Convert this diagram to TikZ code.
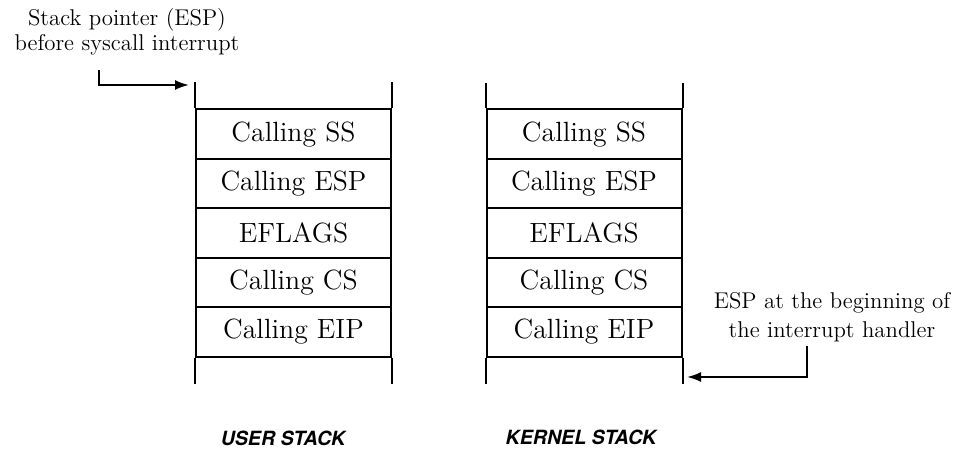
\documentclass[tikz,border=0pt]{standalone}
\usepackage{fontspec}
\newfontfamily\heros{TeX Gyre Heros}
\usetikzlibrary{arrows.meta}
\begin{document}
\begin{tikzpicture}[x=0.5pt,y=-0.5pt, line width=1pt,
  cell/.style={draw, rectangle, minimum width=97.5pt, minimum height=24.7pt, inner sep=0pt,
    font=\fontsize{13.9}{16}\selectfont},
  lbl/.style={align=center, inner sep=0pt},
  stacktitle/.style={font=\heros\bfseries\itshape\fontsize{9.8}{12}\selectfont, inner sep=0pt},
  arr/.style={-{Latex[length=7pt,width=5pt]}, line width=1pt}]
\useasboundingbox (0,0) rectangle (953,449);
% user stack
\node[cell] (u1) at (293.5,134.2) {Calling SS};
\node[cell] (u2) at (293.5,183.6) {Calling ESP};
\node[cell] (u3) at (293.5,233.0) {EFLAGS};
\node[cell] (u4) at (293.5,282.4) {Calling CS};
\node[cell] (u5) at (293.5,331.8) {Calling EIP};
\draw (u1.north west) -- ++(0,-26);
\draw (u1.north east) -- ++(0,-26);
\draw (u5.south west) -- ++(0,26);
\draw (u5.south east) -- ++(0,26);
% kernel stack
\node[cell] (k1) at (584,134.2) {Calling SS};
\node[cell] (k2) at (584,183.6) {Calling ESP};
\node[cell] (k3) at (584,233.0) {EFLAGS};
\node[cell] (k4) at (584,282.4) {Calling CS};
\node[cell] (k5) at (584,331.8) {Calling EIP};
\draw (k1.north west) -- ++(0,-25);
\draw (k1.north east) -- ++(0,-25);
\draw (k5.south west) -- ++(0,26);
\draw (k5.south east) -- ++(0,26);
% labels
\node[lbl, font=\fontsize{11.4}{12.5}\selectfont] (lu) at (127,32)
  {Stack pointer (ESP)\\before syscall interrupt};
\node[lbl, font=\fontsize{11.4}{14.5}\selectfont] (lk) at (832,317.5)
  {ESP at the beginning of\\the interrupt handler};
\coordinate (au) at (99,70);
\coordinate (aue) at (189,85);
\draw[arr] (au) |- (aue);
\coordinate (ak) at (807,346);
\coordinate (ake) at (687,377);
\draw[arr] (ak) |- (ake);
% captions
\node[stacktitle] (cu) at (283,438) {USER STACK};
\node[stacktitle] (ck) at (581,437) {KERNEL STACK};
\end{tikzpicture}
\end{document}
